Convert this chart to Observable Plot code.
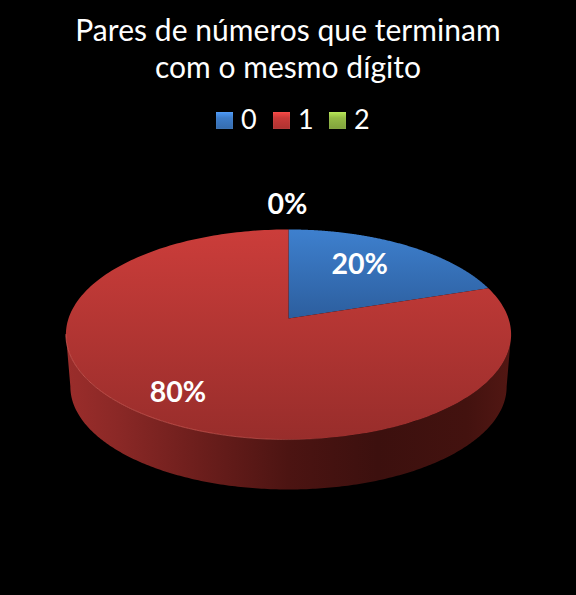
<!DOCTYPE html>
<html lang="pt">
<head>
<meta charset="utf-8">
<script src="https://cdn.jsdelivr.net/npm/d3@7"></script>
<script src="https://cdn.jsdelivr.net/npm/@observablehq/plot@0.6"></script>
<style>
  html, body { margin: 0; padding: 0; background: #000; }
  #page { position: relative; width: 576px; height: 595px; overflow: hidden; background: #000; color: #fff; font-family: Lato, sans-serif; }
  #title { position: absolute; top: 11px; left: 0; width: 576px; text-align: center; font-size: 30px; line-height: 37px; letter-spacing: 0.04px; }
  #legend { position: absolute; top: 101px; left: 0; width: 576px; height: 36px; font-size: 27px; line-height: 36px; }
  #legend span { position: absolute; }
  #legend i { position: absolute; top: 11px; width: 17px; height: 17px; box-shadow: inset 0 0 1px rgba(255,255,255,.35); }
  #chart { position: absolute; top: 140px; left: 0; }
  svg { display: block; }
</style>
</head>
<body>
<div id="page">
  <div id="title">Pares de números que terminam<br>com o mesmo dígito</div>
  <div id="legend"></div>
  <div id="chart"></div>
</div>
<script>
// Data
const categories = ["0", "1", "2"];
const shares = [20, 80, 0];
const labels = ["20%", "80%", "0%"];
const seriesColors = ["#3d7cc9", "#c93a38", "#94bb45"];

// Label placement and projection
const labelRadius = [0.59, 0.78, 1.33];
const labelLift = [0.035, -0.012, 0];
const labelNudge = [0, 0.005, -0.005];
const legendX = [216, 273, 329];
const perspective = 0.1524, tilt = 0.4664, depth = 0.238, shrink = 0.98;

const project = (u, v) => [u / (1 + perspective * v), tilt * v / (1 + perspective * v)];
const onDisc = (angle, r = 1) => project(r * Math.sin(angle), r * Math.cos(angle));
const toAngle = (share) => share / 100 * 2 * Math.PI;
const lowered = ([x, y]) => [x * shrink, y * shrink - depth];
const arc = (a0, a1, n = 240) => d3.range(n + 1).map(i => onDisc(a0 + (a1 - a0) * i / n));

// Slices
let running = 0;
const slices = shares.map((s, i) => {
  const a0 = toAngle(running); running += s; const a1 = toAngle(running);
  return {cat: categories[i], share: s, label: labels[i], a0, a1, mid: (a0 + a1) / 2, i};
});

const toPt = ([x, y], key) => ({x, y, key});
const facePolys = slices.filter(s => s.share > 0).map(s =>
  [onDisc(0, 0), ...arc(s.a0, s.a1), onDisc(0, 0)].map(p => toPt(p, s.cat)));

// Front of the rim, cut where the projected disc is widest
const widest = Math.asin(perspective);
const frontTop = arc(Math.PI / 2 + widest, 3 * Math.PI / 2 - widest);
const wall = [...frontTop, ...frontTop.slice().reverse().map(lowered)];
wall.push(wall[0]);

const labelData = slices.map(s => {
  const [x, y] = onDisc(s.share === 0 ? 0 : s.mid, labelRadius[s.i]);
  return {x: x + labelNudge[s.i], y: y + labelLift[s.i], label: s.label};
});

const defs = () => {
  const d = d3.create("svg:defs");
  const grad = (id, horizontal, stops) => {
    const g = d.append("linearGradient").attr("id", id)
      .attr("x1", 0).attr("y1", 0).attr("x2", horizontal ? 1 : 0).attr("y2", horizontal ? 0 : 1);
    stops.forEach(([o, c, a]) => g.append("stop").attr("offset", o).attr("stop-color", c).attr("stop-opacity", a ?? 1));
  };
  grad("face0", false, [[0, "#3e80ce"], [1, "#2c5e9e"]]);
  grad("face1", false, [[0, "#cb3d3a"], [1, "#982d2b"]]);
  grad("wallG", true, [[0, "#9b2d2b"], [0.12, "#8a2826"], [0.3, "#6c1e1c"], [0.5, "#4c1412"], [0.7, "#3c100e"], [0.9, "#43120f"], [1, "#521713"]]);
  grad("rim", true, [[0, "#d8605a", 0.7], [0.45, "#d8605a", 0.55], [0.6, "#d8605a", 0], [1, "#d8605a", 0]]);
  return d.node();
};

const H = 455, W = 576, unit = 220;
const apexY = 178;

const chart = Plot.plot({
  width: W, height: H,
  margin: 0,
  style: {background: "#000", color: "#fff", fontFamily: "Lato, sans-serif"},
  x: {domain: [-W / 2 / unit, W / 2 / unit], range: [0, W], axis: null},
  y: {domain: [(apexY - H) / unit, apexY / unit], range: [H, 0], axis: null},
  marks: [
    defs,
    Plot.line(wall, {x: d => d[0], y: d => d[1], fill: "url(#wallG)", stroke: "none", curve: "linear"}),
    ...facePolys.map((poly) => Plot.line(poly, {
      x: "x", y: "y", fill: `url(#face${poly[0].key})`, stroke: "none", curve: "linear"
    })),
    Plot.line(frontTop, {x: d => d[0], y: d => d[1], stroke: "url(#rim)", strokeWidth: 1, curve: "linear"}),
    Plot.text(labelData, {
      x: "x", y: "y", text: "label", fill: "#fff", fontSize: 28.5, fontWeight: 700, textAnchor: "middle", lineAnchor: "middle"
    })
  ]
});
document.getElementById("chart").appendChild(chart);

// Legend
const legend = d3.select("#legend");
categories.forEach((c, i) => {
  const base = d3.color(seriesColors[i]);
  legend.append("i").style("left", legendX[i] + "px")
    .style("background", `linear-gradient(180deg, ${base.brighter(0.6)} 0%, ${base} 35%, ${base.darker(0.4)} 100%)`);
  legend.append("span").style("left", (legendX[i] + 25) + "px").text(c);
});
</script>
</body>
</html>
